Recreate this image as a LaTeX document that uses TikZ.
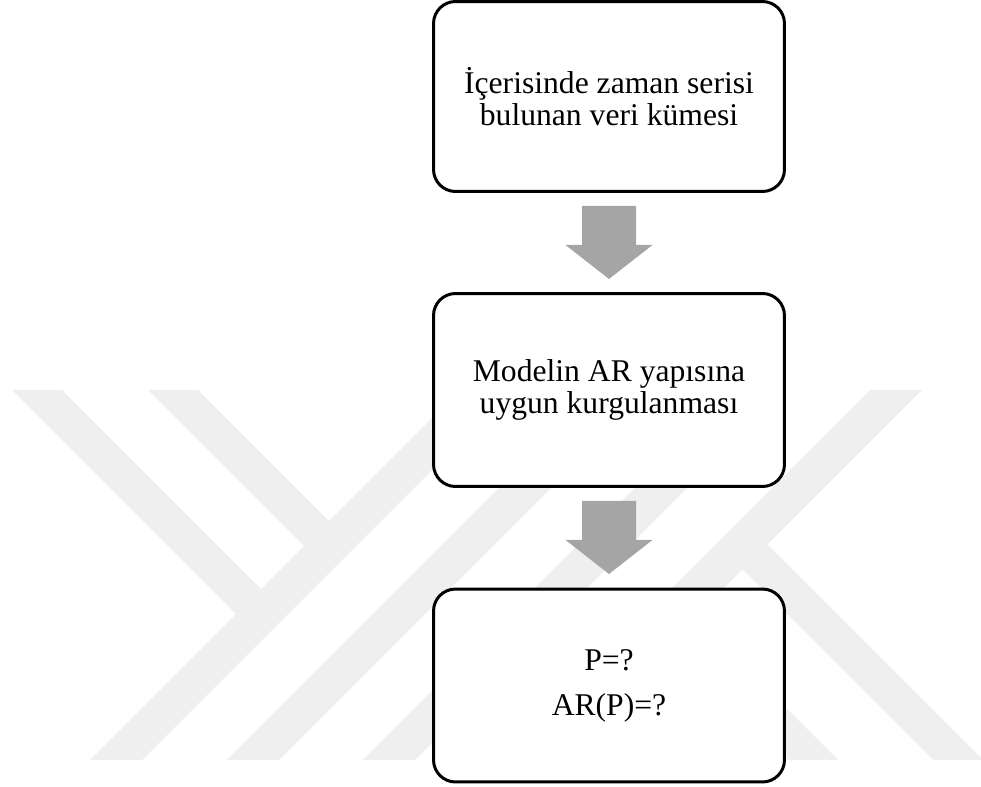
\documentclass[tikz,border=0pt]{standalone}
\usepackage{fontspec}
\setmainfont{Liberation Serif}
\usetikzlibrary{calc}
\definecolor{wmgray}{RGB}{239,239,239}
\definecolor{arrowgray}{RGB}{165,165,165}
\tikzset{
  flowbox/.style={draw=black, fill=white, line width=1.7pt, rounded corners=0.44cm,
    minimum width=7.02cm, minimum height=3.86cm, align=center, inner sep=0pt,
    font=\fontsize{18}{18.5}\selectfont},
  wmband/.style={fill=wmgray, draw=none},
  blockarrow/.style={fill=arrowgray, draw=none}
}
\newcommand\downblock[1]{%
  \fill[blockarrow] ($(#1.south)+(-27,13)$) -- ($(#1.south)+(27,13)$) --
    ($(#1.south)+(27,52)$) -- ($(#1.south)+(43.5,52)$) -- ($(#1.south)+(0,86)$) --
    ($(#1.south)+(-43.5,52)$) -- ($(#1.south)+(-27,52)$) -- cycle;}
\begin{document}
\begin{tikzpicture}[x=0.02cm, y=-0.02cm]
\useasboundingbox (0,0) rectangle (981,787);
\begin{scope}
\clip (0,0) rectangle (981,787);
% watermark bands
\fill[wmband] (460,390) -- (512,390) -- (142,760) -- (90,760) -- cycle;
\fill[wmband] (597,390) -- (649,390) -- (279,760) -- (227,760) -- cycle;
\fill[wmband] (733,390) -- (785,390) -- (415,760) -- (363,760) -- cycle;
\fill[wmband] (870,390) -- (922,390) -- (552,760) -- (500,760) -- cycle;
\fill[wmband] (12,390) -- (62,390) -- (274,602) -- (249,627) -- cycle;
\fill[wmband] (148,390) -- (198,390) -- (342,534) -- (317,559) -- cycle;
\fill[wmband] (788,760) -- (838,760) -- (682,604) -- (657,629) -- cycle;
\fill[wmband] (933,760) -- (983,760) -- (754.5,531.5) -- (729.5,556.5) -- cycle;
\end{scope}
% boxes
\node[flowbox, minimum height=3.8cm] (b1) at (609,96.5) {İçerisinde zaman serisi\\bulunan veri kümesi};
\node[flowbox] (b2) at (609,390) {Modelin AR yapısına\\uygun kurgulanması};
\node[flowbox, font=\fontsize{18}{25.6}\selectfont] (b3) at (609,685.5) {P=?\\AR(P)=?};
% block arrows
\downblock{b1}
\downblock{b2}
\end{tikzpicture}
\end{document}
